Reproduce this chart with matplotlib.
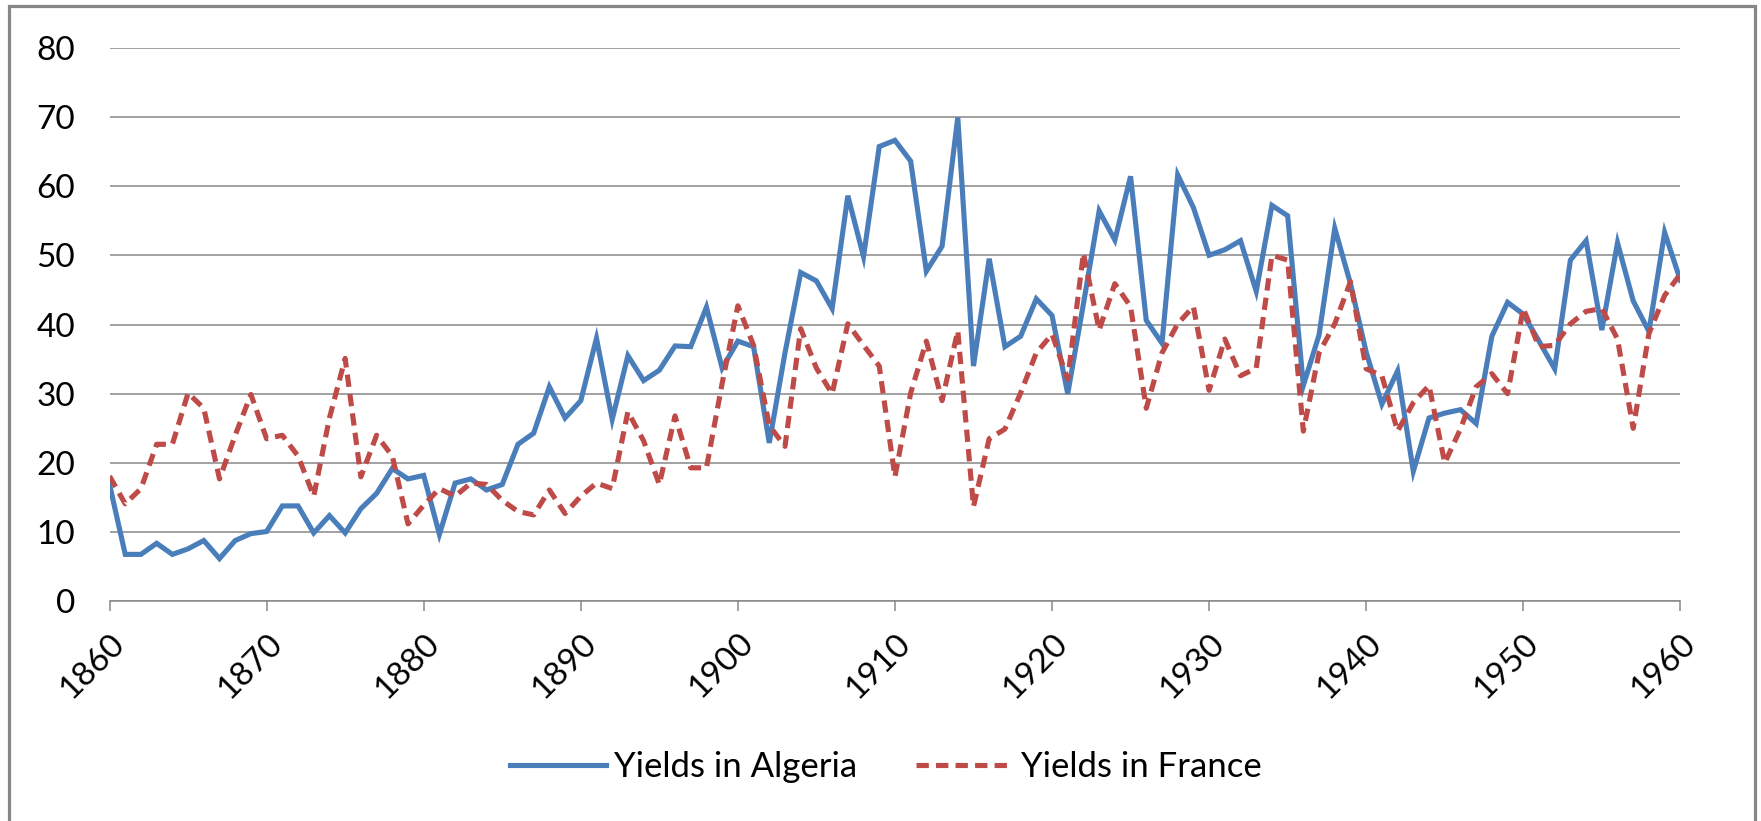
import matplotlib

matplotlib.use("Agg")
import matplotlib.pyplot as plt
from matplotlib.patches import Rectangle
import numpy as np

plt.rcParams["font.family"] = ["Lato", "DejaVu Sans"]

years = np.arange(1860, 1961)

algeria = [
    16.9, 6.8, 6.8, 8.4, 6.8, 7.6, 8.8, 6.2, 8.8, 9.8,        # 1860-1869
    10.1, 13.8, 13.8, 9.9, 12.4, 9.9, 13.4, 15.6, 19.2, 17.7,  # 1870-1879
    18.2, 9.7, 17.1, 17.7, 16.1, 16.9, 22.7, 24.3, 31.0, 26.5,  # 1880-1889
    29.0, 38.0, 26.3, 35.5, 31.9, 33.4, 36.9, 36.8, 42.5, 33.7,  # 1890-1899
    37.6, 36.8, 22.9, 35.9, 47.5, 46.3, 42.3, 58.6, 49.8, 65.7,  # 1900-1909
    66.6, 63.6, 47.7, 51.3, 69.9, 34.0, 49.5, 36.8, 38.3, 43.7,  # 1910-1919
    41.3, 30.0, 43.0, 56.4, 52.2, 61.4, 40.6, 37.3, 61.6, 56.9,  # 1920-1929
    50.0, 50.8, 52.1, 44.8, 57.2, 55.7, 31.2, 38.5, 53.9, 45.9,  # 1930-1939
    36.0, 28.5, 33.3, 18.8, 26.5, 27.2, 27.7, 25.7, 38.3, 43.2,  # 1940-1949
    41.5, 37.6, 33.6, 49.3, 52.1, 39.2, 51.8, 43.4, 39.0, 53.3,  # 1950-1959
    46.4,                                                        # 1960
]

france = [
    18.1, 14.1, 16.3, 22.7, 22.7, 30.1, 27.9, 17.7, 24.0, 29.9,
    23.5, 24.0, 21.0, 15.2, 26.5, 35.1, 18.0, 24.0, 21.0, 11.2,
    13.9, 16.3, 15.2, 17.1, 16.9, 14.6, 13.0, 12.5, 16.1, 12.7,
    15.2, 17.1, 16.3, 27.4, 23.2, 16.9, 26.8, 19.3, 19.3, 31.5,
    42.7, 37.0, 25.4, 22.4, 39.4, 33.7, 30.0, 40.1, 37.0, 34.0,
    18.0, 30.1, 37.6, 29.0, 39.1, 13.7, 23.5, 24.9, 30.1, 35.9,
    38.6, 32.1, 50.3, 39.2, 45.9, 42.6, 27.9, 35.9, 40.1, 42.6,
    30.5, 37.9, 32.6, 33.7, 50.0, 49.3, 24.6, 35.9, 40.1, 46.2,
    33.6, 32.6, 24.6, 28.7, 31.2, 20.0, 24.9, 31.0, 32.9, 30.0,
    42.3, 36.8, 37.0, 40.1, 41.9, 42.3, 37.9, 25.0, 38.7, 44.2,
    47.3,
]

y_ticks = [0, 10, 20, 30, 40, 50, 60, 70, 80]
x_ticks = list(range(1860, 1961, 10))

BLUE = "#4A7EBB"
RED = "#BE4B48"
GRID = "#878787"
FONT = 24

fig = plt.figure(figsize=(17.61, 8.21), dpi=100)
ax = fig.add_axes([0.0622, 0.2674, 0.892, 0.6747])

ax.plot(years, algeria, color=BLUE, lw=3.7, label="Yields in Algeria",
        solid_joinstyle="miter")
ax.plot(years, france, color=RED, lw=3.7, label="Yields in France",
        dashes=(2.4, 1.4), dash_capstyle="butt")

ax.set_xlim(1860, 1960)
ax.set_ylim(0, 80)
ax.set_yticks(y_ticks)
ax.set_xticks(x_ticks)
ax.set_xticklabels([str(x) for x in x_ticks], rotation=45, ha="right",
                   va="top", rotation_mode="anchor")
ax.grid(axis="y", color=GRID, lw=1.1)
ax.set_axisbelow(True)

for side in ["left", "right", "top"]:
    ax.spines[side].set_visible(False)
ax.spines["bottom"].set_color(GRID)
ax.spines["bottom"].set_linewidth(1.1)

ax.tick_params(axis="y", length=0, pad=25, labelsize=FONT)
ax.tick_params(axis="x", length=7, width=1.1, color=GRID, pad=12,
               labelsize=FONT)

fig.legend(loc="center", bbox_to_anchor=(0.503, 0.066), ncol=2,
           frameon=False, fontsize=25, handlelength=2.75,
           handletextpad=0.25, columnspacing=1.7)

# chart border
fig.patches.append(Rectangle((8.5 / 1761, -0.05), (1755 - 8.5) / 1761,
                             1.05 - 6 / 821, transform=fig.transFigure,
                             fill=False, edgecolor=GRID, lw=2.3))

fig.savefig("out.png", dpi=100)
